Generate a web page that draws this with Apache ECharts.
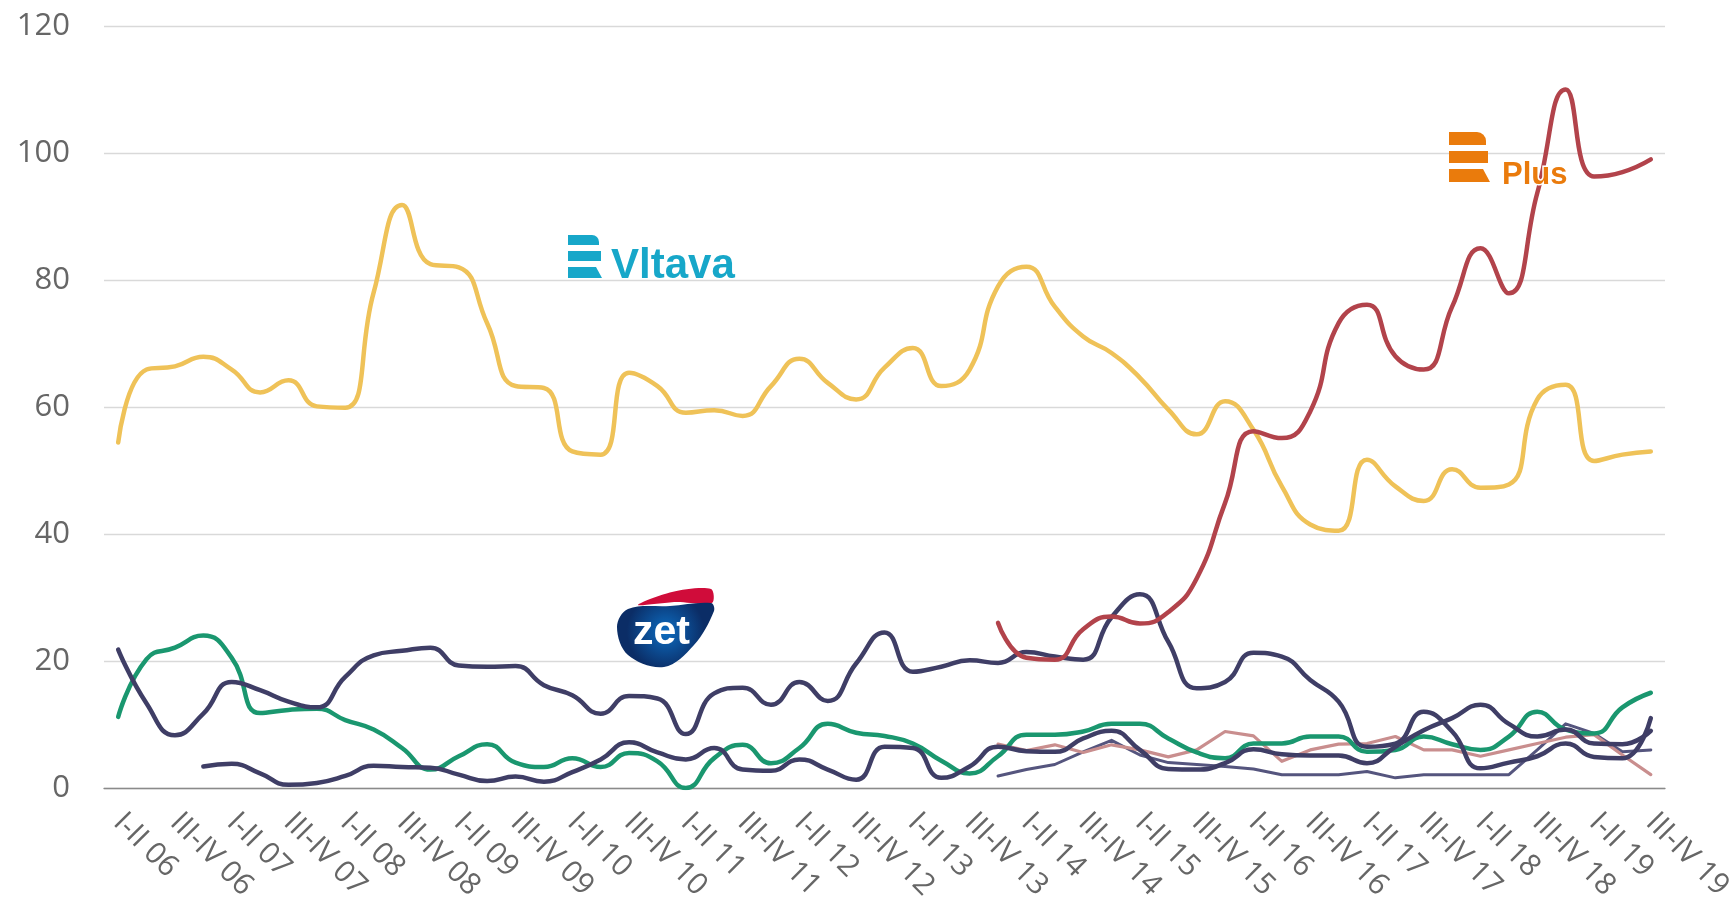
<!DOCTYPE html>
<html>
<head>
<meta charset="utf-8">
<title>Poslechovost</title>
<script src="https://cdn.jsdelivr.net/npm/echarts@6/dist/echarts.min.js"></script>
<style>
  html, body { margin: 0; padding: 0; background: #fff; }
  #main { width: 1729px; height: 899px; }
</style>
</head>
<body>
<div id="main"></div>
<script>
// obdobi (pololetni klouzave vlny), popisek se ukazuje u kazdeho druheho
var categories = [
  'I-II 06','II-III 06','III-IV 06','IV-I 06',
  'I-II 07','II-III 07','III-IV 07','IV-I 07',
  'I-II 08','II-III 08','III-IV 08','IV-I 08',
  'I-II 09','II-III 09','III-IV 09','IV-I 09',
  'I-II 10','II-III 10','III-IV 10','IV-I 10',
  'I-II 11','II-III 11','III-IV 11','IV-I 11',
  'I-II 12','II-III 12','III-IV 12','IV-I 12',
  'I-II 13','II-III 13','III-IV 13','IV-I 13',
  'I-II 14','II-III 14','III-IV 14','IV-I 14',
  'I-II 15','II-III 15','III-IV 15','IV-I 15',
  'I-II 16','II-III 16','III-IV 16','IV-I 16',
  'I-II 17','II-III 17','III-IV 17','IV-I 17',
  'I-II 18','II-III 18','III-IV 18','IV-I 18',
  'I-II 19','II-III 19','III-IV 19'
];

var yTicks = [0, 20, 40, 60, 80, 100, 120];

var vltava = [54.4, 65.9, 66.4, 67.9, 65.9, 62.3, 64.2, 60.1, 59.9, 78, 91.8, 82.5, 82,
  73.2, 63.3, 63, 53, 52.5, 65.4, 63.3, 59.1, 59.5, 58.6, 63.3, 67.6, 63.8, 61.2, 66.2,
  69.3, 63.3, 65.9, 79, 82.1, 75.8, 71.1, 68.5, 64.6, 59.6, 55.7, 60.9, 56.4, 47.5, 41.5,
  40.5, 51.7, 47.5, 45.2, 50.2, 47.3, 47.8, 61.2, 63.5, 51.5, 52.5, 53];

// Plus zacina az od IV-I 13
var plusStart = 31;
var plus = [26, 20.5, 20.2, 25, 27, 25.9, 27.7, 33, 44.9, 56.2, 55.1, 59.3, 73.2, 76.1,
  68, 65.9, 75.8, 85, 77.9, 93.7, 110, 96.3, 97, 99];

var zet = [21.8, 13.3, 8.3, 11.7, 16.7, 15.4, 13.6, 12.7, 17.5, 20.9, 21.6, 22.1, 19.3,
  19.1, 19.2, 16.2, 14.6, 11.7, 14.5, 14.1, 8.5, 14.9, 15.8, 13.1, 16.7, 13.7, 19.6, 24.5,
  18.3, 19.1, 20.1, 19.7, 21.4, 20.7, 20.2, 26.9, 30.5, 23, 15.7, 16.7, 21.3, 20.7, 17,
  13.6, 6.5, 7, 12, 8.9, 3.1, 4, 5, 7, 4.9, 4.7, 11];

var green = [11.2, 20.3, 22.1, 24, 20.5, 11.8, 12.3, 12.5, 10.7, 9.2, 6.3, 2.9, 5, 6.9,
  4, 3.3, 4.7, 3.3, 5.5, 4.2, 0, 4.7, 6.8, 3.9, 6.3, 10.1, 8.7, 8.2, 7, 4.3, 2.3, 5, 8.4,
  8.4, 8.9, 10.1, 10.1, 7.8, 5.6, 4.7, 7, 7, 8.1, 8.1, 5.7, 6, 8.1, 6.9, 6, 8.1, 12, 9.2,
  8.6, 12.7, 15];

// druha tmava linka zacina az od IV-I 06
var navyStart = 3;
var navy = [3.4, 3.8, 2.3, 0.5, 0.8, 1.9, 3.5, 3.3, 3.2, 2.1, 1.1, 1.8, 1, 2.5, 4.5, 7.2,
  5.6, 4.5, 6.3, 2.9, 2.7, 4.5, 2.9, 1.3, 6.5, 6.3, 1.6, 3.4, 6.5, 5.8, 5.7, 7.8, 9, 6,
  3, 2.9, 3.9, 6.1, 5.3, 5.1, 5.1, 3.9, 6.5, 9.1, 11, 13.1, 10.1, 8.1, 9.2, 7, 6.9, 9];

var pinkStart = 31;
var pink = [6.9, 5.9, 6.8, 5.6, 6.8, 6, 4.9, 6, 8.9, 8.2, 4.2, 6, 6.9, 7, 8.1, 6, 6, 5,
  6, 7, 8, 8.4, 5.2, 2.1];

var slateStart = 31;
var slate = [1.9, 2.9, 3.7, 5.7, 7.5, 5.2, 4, 3.7, 3.4, 3, 2.1, 2.1, 2.1, 2.6, 1.6, 2.1,
  2.1, 2.1, 2.1, 6, 10.1, 8.6, 5.7, 6];

window.addEventListener('load', function(){
    initChart();
});

// doplni prazdna mista pred zacatkem rady
function withGap(start, values){
    var out = [];
    for (var i = 0; i < start; i++) {
        out.push('-');
    }
    return out.concat(values);
}

function lineSeries(name, data, color, width, smooth, z){
    return {
        name: name,
        type: 'line',
        data: data,
        smooth: smooth,
        symbol: 'none',
        z: z,
        lineStyle: { color: color, width: width, cap: 'round', join: 'round' },
        itemStyle: { color: color }
    };
}

function logos(){
    var cyan = '#17a7c9';
    var orange = '#ea7b0c';
    var zetFill = new echarts.graphic.RadialGradient(0.5, 0.45, 0.6, [
        { offset: 0, color: '#0d6cc0' },
        { offset: 1, color: '#0b2d66' }
    ]);
    return [
        // Vltava
        { type: 'rect', shape: { x: 568, y: 235, width: 31, height: 10, r: [0, 7, 0, 0] }, style: { fill: cyan }, z: 100 },
        { type: 'rect', shape: { x: 568, y: 251, width: 33, height: 10 }, style: { fill: cyan }, z: 100 },
        { type: 'polygon', shape: { points: [[568, 267], [596, 267], [602, 278], [568, 278]] }, style: { fill: cyan }, z: 100 },
        { type: 'text', x: 611, y: 287, style: { text: 'Vltava', fill: cyan, font: 'bold 42px "Liberation Sans", Arial, sans-serif', textVerticalAlign: 'bottom' }, z: 100 },
        // Plus
        { type: 'rect', shape: { x: 1449, y: 132, width: 37, height: 13, r: [0, 9, 0, 0] }, style: { fill: orange }, z: 100 },
        { type: 'rect', shape: { x: 1449, y: 151, width: 39, height: 12 }, style: { fill: orange }, z: 100 },
        { type: 'polygon', shape: { points: [[1449, 169], [1483, 169], [1490, 182], [1449, 182]] }, style: { fill: orange }, z: 100 },
        { type: 'text', x: 1502, y: 191, style: { text: 'Plus', fill: orange, font: 'bold 31px "Liberation Sans", Arial, sans-serif', textVerticalAlign: 'bottom', stroke: '#fff', lineWidth: 3 }, z: 100 },
        // zet
        { type: 'polygon', shape: { points: [[638, 605], [672, 592], [711, 589], [712, 603], [676, 602]], smooth: 0.3 }, style: { fill: '#d00c3a' }, z: 100 },
        { type: 'polygon',
          shape: { points: [[628, 609], [670, 606], [711, 603], [714, 611], [694, 645], [664, 667], [628, 655], [617, 627]], smooth: 0.35 },
          style: { fill: zetFill },
          z: 100 },
        { type: 'text', x: 633, y: 653, style: { text: 'zet', fill: '#fff', font: 'bold 41px "Liberation Sans", Arial, sans-serif', textVerticalAlign: 'bottom' }, z: 101 }
    ];
}

function initChart(){
    var myChart = echarts.init(document.getElementById('main'));
    var option = {
        animation: false,
        grid: { left: 104, right: 64, top: 26, bottom: 111, containLabel: false, outerBoundsMode: 'none' },
        xAxis: {
            type: 'category',
            data: categories,
            boundaryGap: true,
            axisLine: { lineStyle: { color: '#8a8a8a', width: 1.3 } },
            axisTick: { show: false },
            axisLabel: {
                interval: 1,
                rotate: -45,
                margin: 30,
                color: '#666',
                fontSize: 30,
                fontFamily: '"Open Sans", sans-serif'
            }
        },
        yAxis: {
            type: 'value',
            min: yTicks[0],
            max: yTicks[yTicks.length - 1],
            interval: 20,
            axisLine: { show: false },
            axisTick: { show: false },
            splitLine: { lineStyle: { color: '#d9d9d9', width: 1.3 } },
            axisLabel: {
                margin: 34,
                color: '#666',
                fontSize: 31,
                fontFamily: '"Open Sans", sans-serif'
            }
        },
        series: [
            lineSeries('Stanice 6', withGap(slateStart, slate), '#55557e', 3, false, 2),
            lineSeries('Stanice 5', withGap(pinkStart, pink), '#c98e8e', 3.2, false, 3),
            lineSeries('Stanice 4', green, '#1a976f', 4.5, true, 4),
            lineSeries('Stanice 3', withGap(navyStart, navy), '#3f3e66', 4.5, true, 5),
            lineSeries('Zet', zet, '#3f3e66', 4.5, true, 6),
            lineSeries('Vltava', vltava, '#efc258', 4.5, true, 7),
            lineSeries('Plus', withGap(plusStart, plus), '#b2434b', 4.5, true, 8)
        ],
        graphic: logos()
    };
    myChart.setOption(option);
}
</script>
</body>
</html>
